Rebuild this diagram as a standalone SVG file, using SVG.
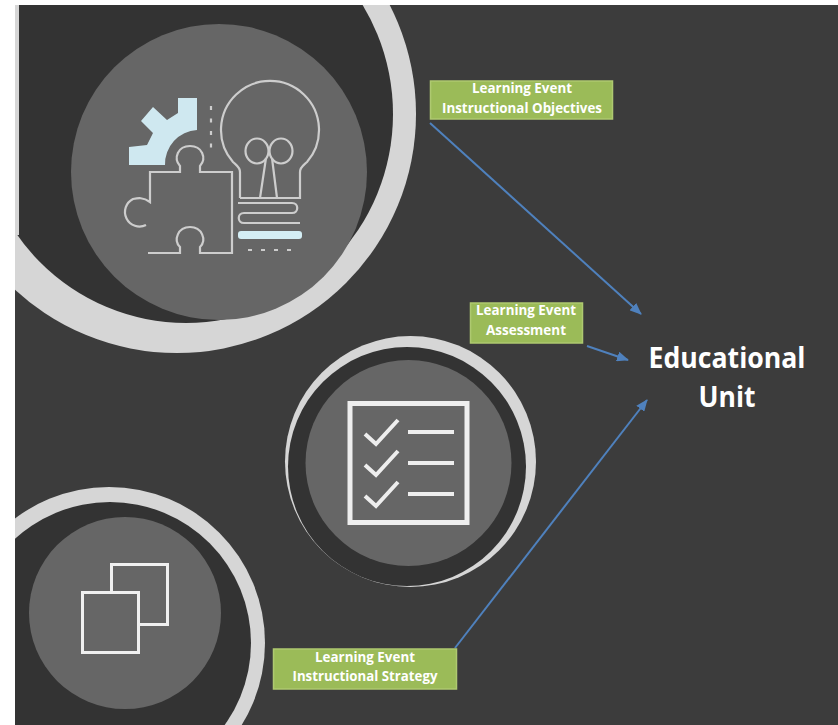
<svg xmlns="http://www.w3.org/2000/svg" width="838" height="725" viewBox="0 0 838 725">
<style>
.ring{fill:#d6d6d6}.dark{fill:#333}.disc{fill:#666}
.ic{fill:none;stroke:#cdcdcd;stroke-width:2.2}
.ck{fill:none;stroke:#eee;stroke-width:4}
.sq{fill:#666;stroke:#f0f0f0;stroke-width:3}
.box{fill:#9bbb59;stroke:#aec96f;stroke-width:1.5;filter:url(#soft)}
.lb{font-family:"Open Sans","Liberation Sans",sans-serif;font-weight:700;font-size:14.500px;fill:#fff;text-anchor:middle}
.big{font-family:"Open Sans","Liberation Sans",sans-serif;font-weight:700;font-size:29px;fill:#fff;text-anchor:middle}
.cn{stroke:#4f81bd;stroke-width:2;fill:none;marker-end:url(#ah)}
</style>
<defs>
<clipPath id="pg"><rect x="15" y="5" width="823" height="720"/></clipPath>
<filter id="soft" x="-10%" y="-20%" width="120%" height="140%"><feGaussianBlur stdDeviation="0.7"/></filter>
<filter id="s2" x="-5%" y="-5%" width="110%" height="110%"><feGaussianBlur stdDeviation="0.5"/></filter>
<marker id="ah" markerUnits="userSpaceOnUse" markerWidth="12" markerHeight="10" refX="11" refY="5" orient="auto"><path d="M0,0L12,5L0,10z" fill="#4f81bd"/></marker>
</defs>
<rect x="15" y="5" width="823" height="720" fill="#3c3c3c"/>
<g id="node-objectives-icon" clip-path="url(#pg)">
<circle class="ring" cx="177" cy="114" r="239"/>
<ellipse class="dark" cx="186" cy="114" rx="207" ry="209"/>
<rect x="15" y="5" width="4" height="230" fill="#d6d6d6"/>
<circle class="disc" cx="219" cy="172" r="148"/>
<g filter="url(#s2)">
<path fill="#cfe8f0" d="M178,98H197V130A34,34 0 0 0 165,165H129V147L147,145L153,133L141,121L153,107L167,120L178,113z"/>
<path class="ic" stroke-dasharray="4 8.500" d="M211,106V150"/>
<path class="ic" d="M240,198V172C240,167 236,165 233,162A49,49 0 1 1 307,162C304,165 300,167 300,172V198H240"/>
<ellipse class="ic" cx="257" cy="151" rx="11.500" ry="12.500"/>
<ellipse class="ic" cx="281" cy="151" rx="11.500" ry="12.500"/>
<path class="ic" d="M266,158L260,198M272,158L277,198"/>
<path class="ic" d="M238,203H292C299,203 299,213 292,213H244C237,213 237,223 244,223H300"/>
<rect x="238" y="231" width="64" height="8" rx="3" fill="#d4eef5"/>
<path class="ic" stroke-dasharray="4 9" d="M248,250H292"/>
<path class="ic" d="M148,253H180V247C173,240 178,227 190,227C202,227 207,240 200,247V253H232V172H200V166C207,158 202,146 190,146C178,146 173,158 180,166V172H150V202C143,197 138,198 133,199A13.500,13.500 0 0 0 146,225"/>
</g>
</g>
<g id="node-assessment-icon">
<ellipse class="ring" cx="410.500" cy="461.500" rx="125.500" ry="125.500"/>
<ellipse class="dark" cx="407" cy="466.500" rx="119" ry="119.500"/>
<circle class="disc" cx="408.500" cy="463" r="103"/>
<g filter="url(#s2)">
<rect x="350" y="403.500" width="117" height="119" fill="none" stroke="#eee" stroke-width="5"/>
<path class="ck" d="M365,434L376,444L398,420M365,465L376,475L398,451M365,496L376,506L398,482M408,432H454M408,463H454M408,494H454"/>
</g>
</g>
<g id="node-strategy-icon" clip-path="url(#pg)">
<circle class="ring" cx="109" cy="643" r="156"/>
<circle class="dark" cx="110" cy="643" r="141"/>
<circle class="disc" cx="125" cy="613" r="96"/>
<g filter="url(#s2)">
<rect class="sq" x="111.500" y="564.500" width="56" height="60"/>
<rect class="sq" x="82.500" y="592.500" width="56" height="60"/>
</g>
</g>
<g id="connectors">
<line class="cn" x1="430" y1="123" x2="641" y2="314"/>
<line class="cn" x1="587" y1="346" x2="628" y2="360"/>
<line class="cn" x1="455" y1="648" x2="647" y2="400"/>
</g>
<g id="node-objectives">
<rect class="box" x="430.500" y="81" width="182" height="38"/>
<text class="lb" x="522" y="93" textLength="100" lengthAdjust="spacingAndGlyphs">Learning Event</text>
<text class="lb" x="522" y="113" textLength="160" lengthAdjust="spacingAndGlyphs">Instructional Objectives</text>
</g>
<g id="node-assessment">
<rect class="box" x="470.500" y="303" width="112" height="40"/>
<text class="lb" x="526" y="315" textLength="100" lengthAdjust="spacingAndGlyphs">Learning Event</text>
<text class="lb" x="526" y="335" textLength="80" lengthAdjust="spacingAndGlyphs">Assessment</text>
</g>
<g id="node-strategy">
<rect class="box" x="273.500" y="649" width="183" height="40"/>
<text class="lb" x="365" y="662" textLength="100" lengthAdjust="spacingAndGlyphs">Learning Event</text>
<text class="lb" x="365" y="681" textLength="145" lengthAdjust="spacingAndGlyphs">Instructional Strategy</text>
</g>
<g id="node-unit">
<text class="big" x="727" y="368" textLength="157" lengthAdjust="spacingAndGlyphs">Educational</text>
<text class="big" x="727" y="407" textLength="57" lengthAdjust="spacingAndGlyphs">Unit</text>
</g>
</svg>
